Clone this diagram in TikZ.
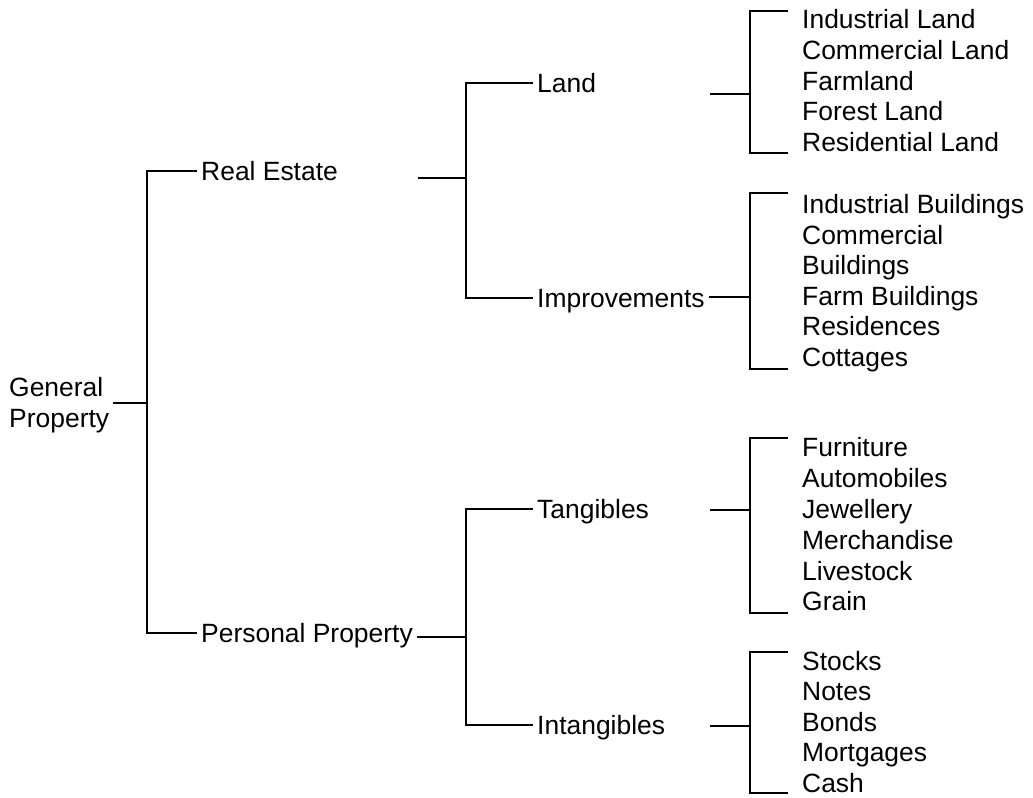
\documentclass[tikz,border=0pt]{standalone}
\usepackage{fontspec}
\setmainfont{Liberation Sans}

\begin{document}
\begin{tikzpicture}[x=0.025cm,y=-0.025cm,line width=1.7pt,
  font=\fontsize{18.8}{21.8}\selectfont,
  lbl/.style={anchor=west,inner sep=0pt,outer xsep=3pt,text height=13.4pt,text depth=0pt},
  item/.style={anchor=west,inner sep=0pt,text height=13.4pt,text depth=0pt}]
  \useasboundingbox (0,0) rectangle (1033,797);
  % root
  \node[anchor=west,inner sep=0pt,outer xsep=3pt,align=left] (gp) at (5,405) {General\\Property};
  \coordinate (gpJ) at (147,403);
  \node[lbl] (re) at (197,171) {Real Estate};
  \node[lbl] (pp) at (197,633) {Personal Property};
  \draw (gp.east |- gpJ) -- (gpJ);
  \draw (re.west) -| (gpJ) |- (pp.west);
  % real estate
  \coordinate (reS) at (418,178);
  \coordinate (reJ) at (466,178);
  \node[lbl] (land) at (533,83) {Land};
  \node[lbl] (imp) at (533,298) {Improvements};
  \draw (reS) -- (reJ);
  \draw (land.west) -| (reJ) |- (imp.west);
  % personal property
  \coordinate (ppJ) at (466,637);
  \node[lbl] (tan) at (533,509) {Tangibles};
  \node[lbl] (intan) at (533,725) {Intangibles};
  \draw (pp.east |- ppJ) -- (ppJ);
  \draw (tan.west) -| (ppJ) |- (intan.west);
  % land
  \coordinate (landS) at (710,94);
  \coordinate (landJ) at (750,94);
  \coordinate (landT) at (788,11);
  \coordinate (landB) at (788,153);
  \draw (landS) -- (landJ);
  \draw (landT) -| (landJ) |- (landB);
  \foreach \t [count=\i] in {Industrial Land,Commercial Land,Farmland,Forest Land,Residential Land}
    \node[item] (landitem\i) at (801,{19.5+30.6*(\i-1)}) {\t};
  % improvements
  \coordinate (impJ) at (750,297);
  \coordinate (impT) at (788,193);
  \coordinate (impB) at (788,369);
  \draw (imp.east |- impJ) -- (impJ);
  \draw (impT) -| (impJ) |- (impB);
  \foreach \t [count=\i] in {Industrial Buildings,Commercial,Buildings,Farm Buildings,Residences,Cottages}
    \node[item] (impitem\i) at (801,{204+30.6*(\i-1)}) {\t};
  % tangibles
  \coordinate (tanS) at (710,510);
  \coordinate (tanJ) at (750,510);
  \coordinate (tanT) at (788,438);
  \coordinate (tanB) at (788,613);
  \draw (tanS) -- (tanJ);
  \draw (tanT) -| (tanJ) |- (tanB);
  \foreach \t [count=\i] in {Furniture,Automobiles,Jewellery,Merchandise,Livestock,Grain}
    \node[item] (tanitem\i) at (801,{447.5+30.8*(\i-1)}) {\t};
  % intangibles
  \coordinate (intS) at (710,726);
  \coordinate (intJ) at (750,726);
  \coordinate (intT) at (788,652);
  \coordinate (intB) at (788,793);
  \draw (intS) -- (intJ);
  \draw (intT) -| (intJ) |- (intB);
  \foreach \t [count=\i] in {Stocks,Notes,Bonds,Mortgages,Cash}
    \node[item] (intitem\i) at (801,{661+30.4*(\i-1)}) {\t};
\end{tikzpicture}
\end{document}
